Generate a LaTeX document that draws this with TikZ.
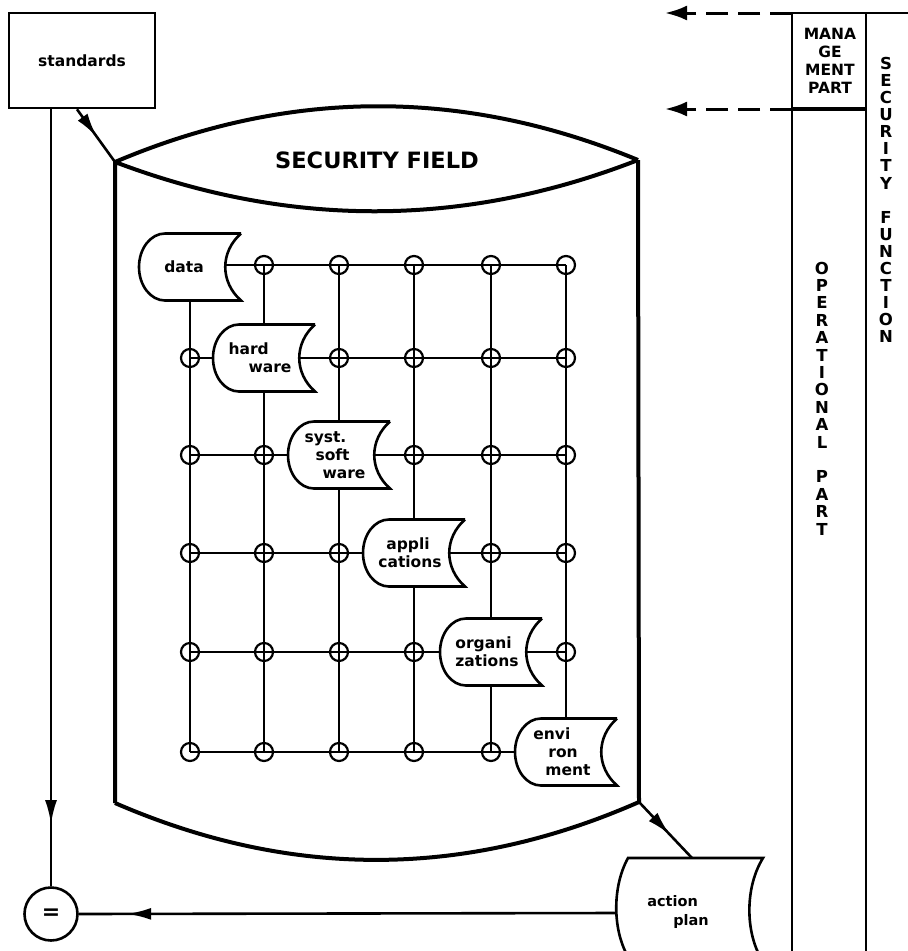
\documentclass[tikz,border=0pt]{standalone}
\usepackage{fontspec}
\setmainfont{DejaVu Sans}
\usetikzlibrary{arrows.meta,decorations.markings,calc}

\tikzset{
  gridline/.style={line width=2.3pt},
  boxline/.style={line width=2.6pt},
  wallline/.style={line width=4pt},
  colline/.style={line width=2.8pt},
  junction/.style={circle, draw, line width=2.2pt, minimum size=18pt, inner sep=0pt},
  docnode/.style={minimum width=102pt, minimum height=67pt, inner sep=0pt,
    font=\fontsize{15.5}{18}\selectfont\bfseries, align=left},
  lbl/.style={font=\fontsize{15.5}{18}\selectfont\bfseries},
  midarrow/.style={postaction={decorate}, decoration={markings,
    mark=at position #1 with {\arrow{Latex[length=24pt,width=12pt]}}}},
  dasharrow/.style={line width=3pt, dash pattern=on 22pt off 10pt,
    -{Latex[length=22pt,width=15pt]}},
}

% outline of a data-store shape around a 102x67 node
\newcommand{\storeoutline}[1]{%
  \draw[boxline, shift={(#1.center)}]
    (51,-33.5) -- (-25,-33.5)
    .. controls (-39.4,-33.5) and (-51,-18.5) .. (-51,0)
    .. controls (-51,18.5) and (-39.4,33.5) .. (-25,33.5)
    -- (51,33.5)
    .. controls (30,15) and (30,-15) .. (51,-33.5);
}

\begin{document}
\begin{tikzpicture}[x=1pt, y=-1pt]
\useasboundingbox (0,0) rectangle (908,951);

% ---------- standards box and equality node ----------
\node[draw, boxline, minimum width=146pt, minimum height=95pt, inner sep=0pt, lbl]
  (std) at (82,60.5) {standards};
\node[draw, circle, boxline, minimum size=53pt, inner sep=0pt,
  font=\fontsize{22}{22}\selectfont\bfseries] (eq) at (51,914) {=};

% ---------- the security field cylinder ----------
\coordinate (tl) at (115,162);
\coordinate (tr) at (638,160);
\coordinate (bl) at (115,803);
\coordinate (br) at (639,802);
\draw[wallline, line join=miter]
  (tl) .. controls (289,88) and (464,88) .. (tr)
  (tl) .. controls (289,228) and (464,228) .. (tr)
  (tl) -- (bl)
  (tr) -- (br)
  (bl) .. controls (290,879) and (464,879) .. (br);
\node[font=\fontsize{22.5}{22}\selectfont\bfseries] (field) at (377,160) {SECURITY FIELD};

% ---------- junction grid ----------
\foreach \r/\y in {1/265,2/358,3/455,4/553,5/652,6/752}{
  \foreach \c/\x in {1/190,2/264,3/339,4/414,5/491,6/566}{
    \ifnum\r=\c\relax\else
      \node[junction] (c\r\c) at (\x,\y) {};
    \fi
  }
}

% ---------- data-store nodes on the diagonal ----------
\node[docnode] (d1) at (190,267) {data\hspace*{12pt}};
\node[docnode] (d2) at (264,358) {hard\\\hspace*{20pt}ware\hspace*{8pt}};
\node[docnode] (d3) at (339,455) {syst.\\\hspace*{11pt}soft\\\hspace*{18pt}ware\hspace*{8pt}};
\node[docnode] (d4) at (414,553) {\hspace*{8pt}appli\\cations\hspace*{8pt}};
\node[docnode] (d5) at (491,652) {organi\\zations\hspace*{8pt}};
\node[docnode] (d6) at (566,752) {envi\\\hspace*{15pt}ron\\\hspace*{12pt}ment\hspace*{8pt}};
\foreach \n in {d1,d2,d3,d4,d5,d6}{\storeoutline{\n}}

% rows
\draw[gridline] ([xshift=-16pt]d1.east |- c12.center) -- (c16.center);
\draw[gridline] (c21.center) -- (d2.west);
\draw[gridline] ([xshift=-16pt]d2.east) -- (c26.center);
\draw[gridline] (c31.center) -- (d3.west);
\draw[gridline] ([xshift=-16pt]d3.east) -- (c36.center);
\draw[gridline] (c41.center) -- (d4.west);
\draw[gridline] ([xshift=-16pt]d4.east) -- (c46.center);
\draw[gridline] (c51.center) -- (d5.west);
\draw[gridline] ([xshift=-16pt]d5.east) -- (c56.center);
\draw[gridline] (c61.center) -- (d6.west);
% columns
\draw[gridline] (d1.south) -- (c61.center);
\draw[gridline] (c12.center) -- (d2.north);
\draw[gridline] (d2.south) -- (c62.center);
\draw[gridline] (c13.center) -- (d3.north);
\draw[gridline] (d3.south) -- (c63.center);
\draw[gridline] (c14.center) -- (d4.north);
\draw[gridline] (d4.south) -- (c64.center);
\draw[gridline] (c15.center) -- (d5.north);
\draw[gridline] (d5.south) -- (c65.center);
\draw[gridline] (c16.center) -- (d6.north);

% ---------- action plan ----------
\node[font=\fontsize{14.5}{19}\selectfont\bfseries, align=left, inner sep=0pt]
  (plan) at (678,912) {action\\\hspace*{26pt}plan};
\draw[boxline, shift={(plan.center)}]
  (-48,48) .. controls (-66,20) and (-66,-25) .. (-50,-54)
  -- (85,-54)
  .. controls (67,-25) and (67,20) .. (84,48);
\coordinate (planN) at ($(plan.center)+(14,-54)$);
\coordinate (planW) at ($(plan.center)+(-62,1)$);

% ---------- flow connectors ----------
\draw[boxline, midarrow=0.52] ([xshift=-5pt]std.south) -- (tl);
\draw[boxline, midarrow=0.92] (std.south -| eq.north) -- (eq.north);
\draw[boxline, midarrow=0.58] (br) -- (planN);
\draw[boxline, midarrow=0.91] (planW) -- (eq.east);

% ---------- security function column ----------
\coordinate (m1) at (792,13);
\coordinate (m2) at (866,13);
\coordinate (m3) at (792,109);
\coordinate (m4) at (866,109);
\coordinate (mb1) at (792,960);
\coordinate (mb2) at (866,960);
\coordinate (mr) at (910,13);
\draw[colline] (m1) -- (mb1) (m2) -- (mb2) (m1) -- (mr);
\draw[line width=3.5pt] (m3) -- (m4);
\coordinate (a1) at (665,13);
\coordinate (a2) at (665,109);
\draw[dasharrow] (m1) -- (a1);
\draw[dasharrow] (m3) -- (a2);

\node[font=\fontsize{15.5}{18}\selectfont\bfseries, align=center, inner sep=0pt]
  (mgmt) at (830,60.5) {MANA\\GE\\MENT\\PART};
\node[font=\fontsize{16.5}{17.4}\selectfont\bfseries, align=center, inner sep=0pt]
  (oper) at (822,398.5) {O\\P\\E\\R\\A\\T\\I\\O\\N\\A\\L\\[17.4pt]P\\A\\R\\T};
\node[font=\fontsize{16.5}{17.1}\selectfont\bfseries, align=center, inner sep=0pt]
  (secfun) at (886,200) {S\\E\\C\\U\\R\\I\\T\\Y\\[17.1pt]F\\U\\N\\C\\T\\I\\O\\N};
\end{tikzpicture}
\end{document}
